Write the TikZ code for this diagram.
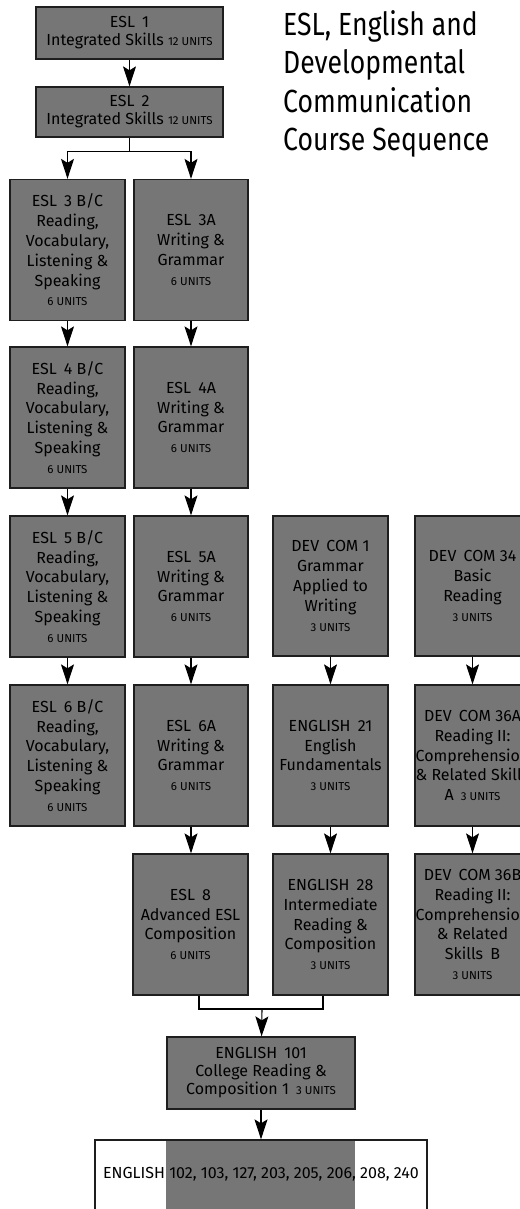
\documentclass[tikz,border=0pt]{standalone}
\usepackage{fontspec}
\setmainfont{Fira Sans}
\newfontfamily\titlefont{Fira Sans}[FakeStretch=0.83]
\usetikzlibrary{arrows.meta}
\definecolor{boxgrey}{RGB}{118,118,118}
\definecolor{edgecol}{RGB}{30,30,30}
\newcommand\un[1]{{\fontsize{11.5}{14}\selectfont #1}}
\newcommand\gp{\hspace{0.45em}}
\begin{document}
\begin{tikzpicture}[x=1pt,y=-1pt,
  course/.style={draw=edgecol, line width=1.3pt, fill=boxgrey, align=center, inner sep=0pt,
    minimum width=115pt, minimum height=141pt, font=\fontsize{16}{19.8}\selectfont},
  widecourse/.style={course, minimum width=187pt, minimum height=51pt, font=\fontsize{16}{18}\selectfont},
  conn/.style={draw=black, line width=1.1pt},
  arr/.style={conn, -{Stealth[length=20pt,width=13pt,inset=4pt]}},
]
\useasboundingbox (0,0) rectangle (519,1209);

% title
\node[anchor=north west, align=left, inner sep=0pt, font=\titlefont\fontsize{32}{38.5}\selectfont] (title) at (283,10)
  {ESL, English and\\Developmental\\Communication\\Course Sequence};

% ESL 1, 2
\node[widecourse, minimum height=52pt] (esl1) at (129.5,33) {ESL\gp 1\\Integrated Skills\ \un{12 UNITS}};
\node[widecourse, minimum height=50pt] (esl2) at (129.5,112) {ESL\gp 2\\Integrated Skills\ \un{12 UNITS}};

% left columns
\node[course] (esl3bc) at (67.5,250) {ESL\gp 3 B/C\\Reading,\\Vocabulary,\\Listening \&\\Speaking\\\un{6 UNITS}};
\node[course, minimum width=114pt] (esl3a) at (191,250) {ESL\gp 3A\\Writing \&\\Grammar\\\un{6 UNITS}};
\node[course] (esl4bc) at (67.5,417.5) {ESL\gp 4 B/C\\Reading,\\Vocabulary,\\Listening \&\\Speaking\\\un{6 UNITS}};
\node[course, minimum width=114pt] (esl4a) at (191,417.5) {ESL\gp 4A\\Writing \&\\Grammar\\\un{6 UNITS}};
\node[course] (esl5bc) at (67.5,586.5) {ESL\gp 5 B/C\\Reading,\\Vocabulary,\\Listening \&\\Speaking\\\un{6 UNITS}};
\node[course, minimum width=114pt] (esl5a) at (191,586.5) {ESL\gp 5A\\Writing \&\\Grammar\\\un{6 UNITS}};
\node[course] (esl6bc) at (67.5,755.5) {ESL\gp 6 B/C\\Reading,\\Vocabulary,\\Listening \&\\Speaking\\\un{6 UNITS}};
\node[course, minimum width=114pt] (esl6a) at (191,755.5) {ESL\gp 6A\\Writing \&\\Grammar\\\un{6 UNITS}};
\node[course] (esl8) at (190.5,924.5) {ESL\gp 8\\Advanced ESL\\Composition\\\un{6 UNITS}};

% DEV COM / ENGLISH column
\node[course, minimum height=140pt] (dc1) at (330.5,586) {DEV\gp COM 1\\Grammar\\Applied to\\Writing\\\un{3 UNITS}};
\node[course] (eng21) at (330.5,755.5) {ENGLISH\gp 21\\English\\Fundamentals\\\un{3 UNITS}};
\node[course] (eng28) at (330.5,924.5) {ENGLISH\gp 28\\Intermediate\\Reading \&\\Composition\\\un{3 UNITS}};

% right column (cut by edge)
\node[course, minimum height=140pt] (dc34) at (472.5,586) {DEV\gp COM 34\\Basic\\Reading\\\un{3 UNITS}};
\node[course] (dc36a) at (472.5,755.5) {DEV\gp COM 36A\\Reading II:\\Comprehension\\\& Related Skills\\A\gp\un{3 UNITS}};
\node[course] (dc36b) at (472.5,924.5) {DEV\gp COM 36B\\Reading II:\\Comprehension\\\& Related\\Skills\gp B\\\un{3 UNITS}};

% ENGLISH 101
\node[course, minimum width=188pt, minimum height=72pt, font=\fontsize{16}{18}\selectfont] (eng101) at (261,1073)
  {ENGLISH\gp 101\\College Reading \&\\Composition 1\gp\un{3 UNITS}};

% final box
\fill[boxgrey] (166,1140) rectangle (355,1216);
\node[draw=edgecol, line width=1.3pt, minimum width=332pt, minimum height=100pt, inner sep=0pt] (final) at (261,1190) {};
\node[inner sep=0pt, font=\fontsize{16}{19}\selectfont] (finaltxt) at (261,1174) {ENGLISH 102, 103, 127, 203, 205, 206, 208, 240};

% connectors
\draw[arr] (esl1) -- (esl2);
\draw[conn] (esl2.south) -- ++(0,14) coordinate (split);
\draw[arr] (split) -| (esl3bc.north);
\draw[arr] (split) -| (esl3a.north);
\draw[arr] (esl3bc) -- (esl4bc);
\draw[arr] (esl4bc) -- (esl5bc);
\draw[arr] (esl5bc) -- (esl6bc);
\draw[arr] (esl3a) -- (esl4a);
\draw[arr] (esl4a) -- (esl5a);
\draw[arr] (esl5a) -- (esl6a);
\draw[arr] (esl6a.south) -- (esl6a.south |- esl8.north);
\draw[arr] (dc1) -- (eng21);
\draw[arr] (eng21) -- (eng28);
\draw[arr] (dc34) -- (dc36a);
\draw[arr] (dc36a) -- (dc36b);
\coordinate (merge) at (262,1009);
\draw[conn] ([xshift=8.5pt]esl8.south) |- (merge) -| ([xshift=-7.5pt]eng28.south);
\draw[arr] (merge) -- (eng101);
\draw[arr] (eng101) -- (final);
\end{tikzpicture}
\end{document}
